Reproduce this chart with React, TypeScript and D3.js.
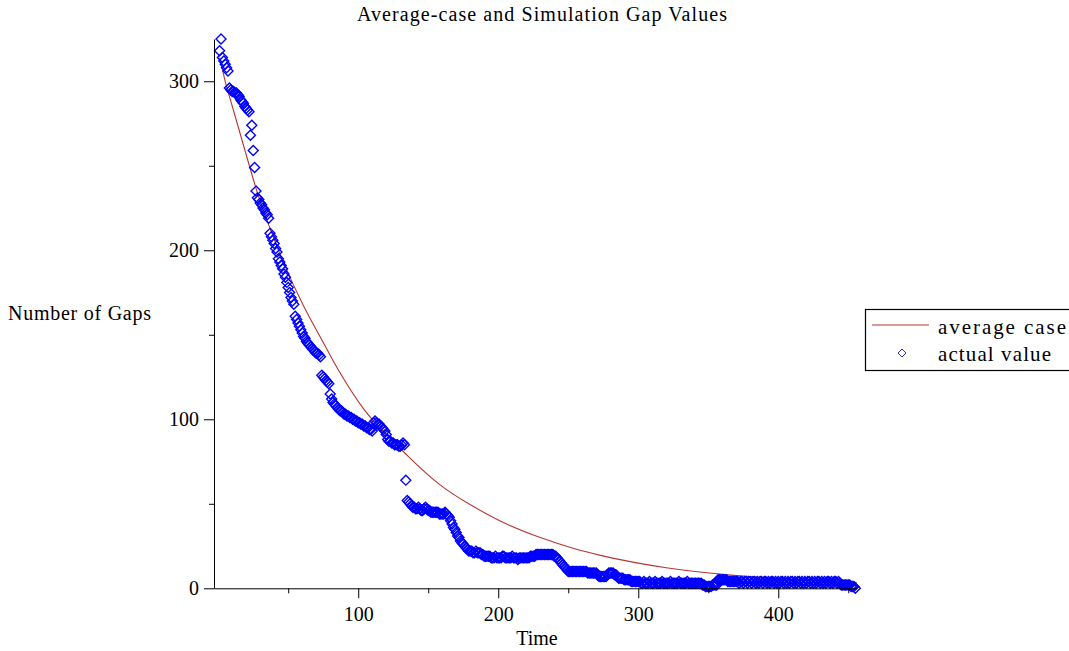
import React, { useRef, useEffect } from 'react'
import * as d3 from 'd3'

// simulation: number of gaps at each time step (t = 1, 2, 3, ...)
const actualGaps: number[] = [
  318, 325, 314, 312, 310, 308, 306, 296, 295, 294,
  294, 293, 293, 292, 291, 289, 288, 287, 285, 284,
  283, 282, 268, 274, 259, 249, 235, 231, 230, 228,
  227, 225, 224, 222, 221, 219, 210, 208, 206, 204,
  201, 199, 195, 193, 191, 189, 186, 184, 181, 178,
  175, 172, 170, 168, 161, 159, 157, 155, 153, 151,
  149, 148, 146, 145, 144, 143, 142, 141, 140, 139,
  139, 138, 137, 126, 125, 124, 123, 122, 121, 115,
  112, 110, 109, 108, 107, 106, 105, 105, 104, 103,
  103, 102, 102, 101, 101, 100, 100, 99, 99, 98,
  98, 97, 97, 96, 96, 95, 95, 94, 94, 93,
  98, 99, 98, 97, 97, 96, 95, 94, 93, 91,
  88, 87, 87, 86, 86, 85, 85, 85, 84, 84,
  85, 86, 85, 64, 52, 51, 50, 49, 48, 48,
  47, 47, 48, 47, 46, 46, 47, 48, 47, 46,
  46, 45, 45, 45, 45, 45, 45, 44, 44, 44,
  44, 45, 44, 43, 42, 40, 38, 36, 35, 33,
  31, 30, 28, 27, 26, 25, 24, 23, 22, 22,
  22, 21, 21, 22, 21, 21, 21, 20, 20, 19,
  19, 19, 19, 19, 18, 18, 18, 19, 18, 18,
  18, 18, 19, 19, 18, 18, 18, 18, 18, 19,
  18, 18, 18, 17, 18, 18, 18, 18, 18, 18,
  18, 18, 19, 19, 19, 19, 20, 20, 20, 20,
  20, 20, 20, 20, 20, 20, 20, 20, 20, 19,
  19, 18, 17, 16, 15, 14, 13, 12, 11, 10,
  10, 10, 10, 10, 10, 10, 10, 10, 10, 10,
  10, 10, 10, 9, 9, 9, 9, 9, 9, 9,
  8, 7, 7, 7, 7, 7, 7, 8, 9, 9,
  9, 9, 8, 8, 7, 6, 6, 6, 6, 5,
  5, 5, 5, 5, 4, 4, 4, 4, 4, 4,
  4, 3, 3, 4, 3, 3, 3, 4, 3, 3,
  3, 4, 3, 3, 3, 3, 4, 3, 3, 3,
  3, 3, 4, 3, 3, 3, 3, 3, 4, 3,
  3, 3, 3, 3, 4, 3, 3, 3, 3, 3,
  3, 3, 3, 3, 3, 2, 2, 1, 1, 1,
  1, 1, 2, 2, 2, 2, 5, 5, 5, 5,
  5, 5, 5, 4, 4, 4, 4, 4, 4, 4,
  4, 3, 4, 4, 3, 4, 4, 3, 4, 4,
  3, 4, 4, 3, 4, 3, 4, 4, 3, 4,
  4, 3, 4, 3, 4, 4, 3, 4, 3, 4,
  3, 4, 4, 3, 4, 3, 4, 3, 4, 4,
  3, 4, 3, 4, 4, 3, 4, 3, 4, 3,
  4, 4, 3, 4, 3, 4, 3, 4, 4, 3,
  4, 3, 4, 3, 4, 4, 3, 4, 3, 4,
  4, 3, 4, 3, 2, 2, 2, 2, 2, 2,
  2, 1, 1, 1, 0
]

// average-case curve, read at these times
const avgTime: number[] = [1, 5, 8, 15, 28, 37, 46, 61, 76, 87, 104, 120, 137, 158, 182, 206, 230, 254, 273, 296, 320, 344, 366, 400, 430, 456]
const avgGaps: number[] = [314, 300, 291, 271, 234, 213, 194, 167, 144, 127.5, 106, 91, 77, 61.5, 48.5, 38, 30, 23.5, 19.5, 15.5, 12.2, 9.6, 7.8, 5.7, 4.3, 3.4]

const xTicks = [100, 200, 300, 400]
const xMinor = [50, 150, 250, 350, 450]
const yTicks = [0, 100, 200, 300]
const yMinor = [50, 150, 250]

const seriesNames = ['average case', 'actual value']

const FONT = '"Liberation Serif", "Times New Roman", serif'
const RED = '#b53535'
const BLUE = '#0000ff'

export default function App() {
  const ref = useRef<SVGSVGElement>(null)
  const width = 1069
  const height = 651

  const x = d3.scaleLinear().domain([-3, 456]).range([214, 856.7])
  const y = d3.scaleLinear().domain([0, 325]).range([588.3, 39])

  useEffect(() => {
    const svg = d3.select(ref.current)

    svg.select<SVGGElement>('#x-axis')
      .attr('transform', `translate(0, ${y(0)})`)
      .call(d3.axisBottom(x).tickValues(xTicks).tickSize(10).tickSizeOuter(0).tickPadding(9).tickFormat(d3.format('d')))
    svg.select<SVGGElement>('#x-minor')
      .attr('transform', `translate(0, ${y(0)})`)
      .call(d3.axisBottom(x).tickValues(xMinor).tickSize(5).tickSizeOuter(0).tickFormat(() => ''))
      .select('.domain').remove()

    svg.select<SVGGElement>('#y-axis')
      .attr('transform', `translate(${x(-3)}, 0)`)
      .call(d3.axisLeft(y).tickValues(yTicks).tickSize(10).tickSizeOuter(0).tickPadding(5).tickFormat(d3.format('d')))
    svg.select<SVGGElement>('#y-minor')
      .attr('transform', `translate(${x(-3)}, 0)`)
      .call(d3.axisLeft(y).tickValues(yMinor).tickSize(5).tickSizeOuter(0).tickFormat(() => ''))
      .select('.domain').remove()

    svg.selectAll('.tick text')
      .attr('font-family', FONT)
      .attr('font-size', 20)
      .attr('fill', '#000')
    svg.selectAll('.tick line, .domain').attr('stroke', '#000')

    const line = d3.line<number>()
      .x((d, i) => x(avgTime[i]))
      .y(d => y(d))
      .curve(d3.curveNatural)

    svg.select('#curve')
      .selectAll('path')
      .data([avgGaps])
      .join('path')
      .attr('d', line)
      .attr('fill', 'none')
      .attr('stroke', RED)
      .attr('stroke-width', 1.1)

    const diamond = 'M0,-5L5,0L0,5L-5,0Z'
    svg.select('#points')
      .selectAll('path')
      .data(actualGaps)
      .join('path')
      .attr('d', diamond)
      .attr('transform', (d, i) => `translate(${x(i + 1)},${y(d)})`)
      .attr('fill', 'none')
      .attr('stroke', BLUE)
      .attr('stroke-width', 1.4)

    // legend
    const legend = svg.select('#legend')
    legend.selectAll('rect')
      .data([0])
      .join('rect')
      .attr('x', 865.5)
      .attr('y', 309.5)
      .attr('width', 230)
      .attr('height', 61)
      .attr('fill', '#fff')
      .attr('stroke', '#000')
      .attr('stroke-width', 1.2)
    legend.selectAll('line')
      .data([0])
      .join('line')
      .attr('x1', 872)
      .attr('x2', 929)
      .attr('y1', 325)
      .attr('y2', 325)
      .attr('stroke', RED)
      .attr('stroke-width', 1.2)
    legend.selectAll('.legendMark')
      .data([0])
      .join('path')
      .attr('class', 'legendMark')
      .attr('d', 'M0,-4L4,0L0,4L-4,0Z')
      .attr('transform', 'translate(902,353)')
      .attr('fill', 'none')
      .attr('stroke', '#3030c0')
      .attr('stroke-width', 1)
    legend.selectAll('text')
      .data(seriesNames)
      .join('text')
      .attr('x', 938)
      .attr('y', (d, i) => 334 + i * 27)
      .attr('font-family', FONT)
      .attr('font-size', 21)
      .attr('textLength', (d, i) => (i === 0 ? 128 : 113))
      .attr('lengthAdjust', 'spacing')
      .text(d => d)
  }, [])

  return (
    <svg ref={ref} width={width} height={height} style={{ position: 'absolute', left: 0, top: 0, background: '#fff' }}>
      <text x={542} y={21} textAnchor="middle" fontFamily={FONT} fontSize={20} textLength={370} lengthAdjust="spacing">
        Average-case and Simulation Gap Values
      </text>
      <text x={8} y={320} fontFamily={FONT} fontSize={20} textLength={143} lengthAdjust="spacing">
        Number of Gaps
      </text>
      <text x={537} y={645} textAnchor="middle" fontFamily={FONT} fontSize={20}>
        Time
      </text>
      <g id="curve" />
      <g id="points" />
      <g id="x-axis" />
      <g id="x-minor" />
      <g id="y-axis" />
      <g id="y-minor" />
      <g id="legend" />
    </svg>
  )
}
